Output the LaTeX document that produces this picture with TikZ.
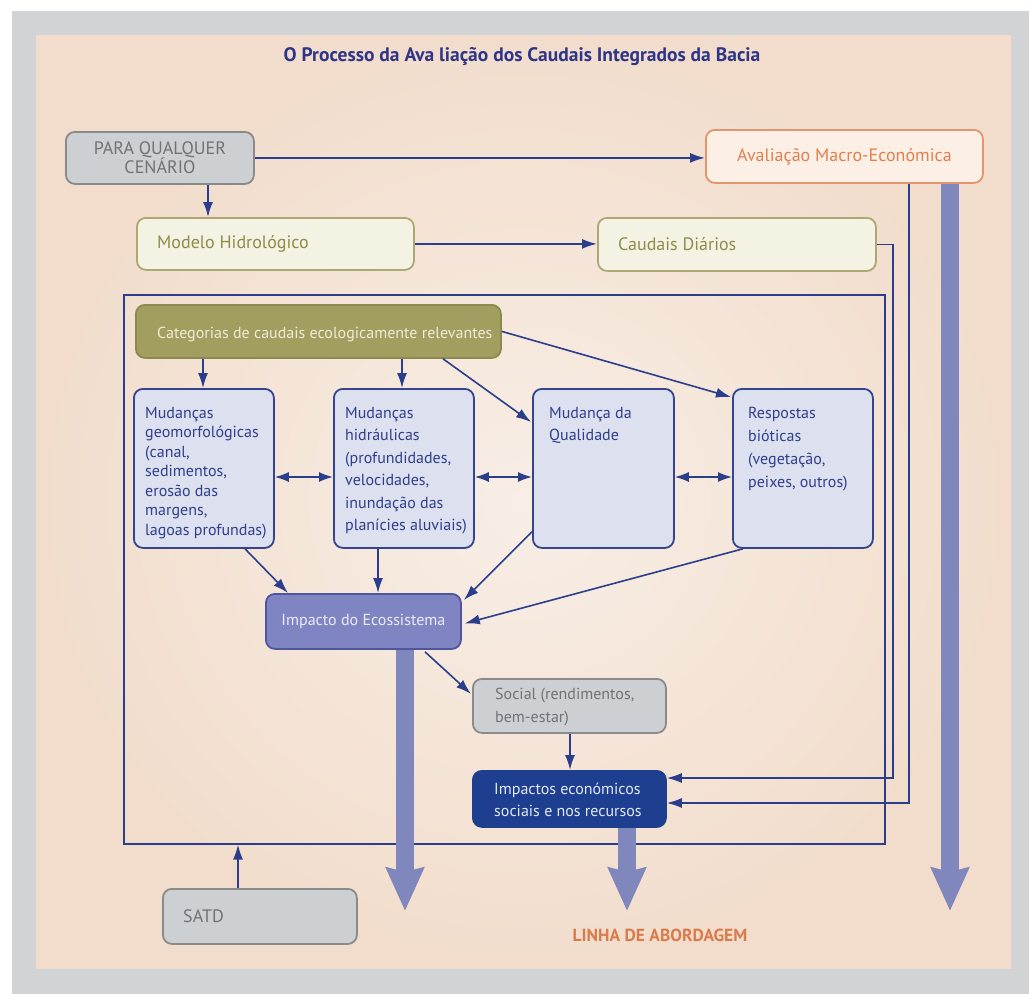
\documentclass[tikz,border=0pt]{standalone}
\usepackage{fontspec}
\setmainfont{PT Sans}
\usetikzlibrary{arrows.meta,calc}
\definecolor{graybg}{HTML}{D1D3D5}
\definecolor{peach}{HTML}{F2DDCC}
\definecolor{peachlt}{HTML}{F8EEE6}
\definecolor{lineblue}{HTML}{2B3E8C}
\definecolor{titleblue}{HTML}{2E3588}
\definecolor{thickblue}{HTML}{7F87BC}
\definecolor{boxgray}{HTML}{CDD0D3}
\definecolor{bordergray}{HTML}{8A8A8A}
\definecolor{textgray}{HTML}{707275}
\definecolor{avalfill}{HTML}{FCEFE6}
\definecolor{avalborder}{HTML}{E3956C}
\definecolor{avaltext}{HTML}{E0804F}
\definecolor{creamfill}{HTML}{F4F2E2}
\definecolor{oliveborder}{HTML}{ADA872}
\definecolor{olivetext}{HTML}{8E8C4A}
\definecolor{catfill}{HTML}{A19E60}
\definecolor{catborder}{HTML}{8C894F}
\definecolor{cattext}{HTML}{EEEDD8}
\definecolor{lavfill}{HTML}{DDE0EE}
\definecolor{navyborder}{HTML}{34448F}
\definecolor{navytext}{HTML}{2F3F8C}
\definecolor{impfill}{HTML}{7F85C3}
\definecolor{impborder}{HTML}{50569B}
\definecolor{imptext}{HTML}{ECECF6}
\definecolor{darkfill}{HTML}{1E3F90}
\definecolor{darktext}{HTML}{E2E8F5}
\definecolor{orangetext}{HTML}{DA7B4C}
\tikzset{
  boxbase/.style={rounded corners=9pt, line width=1.8pt, inner sep=0pt, anchor=north west},
  graybox/.style={boxbase, draw=bordergray, fill=boxgray, text=textgray},
  avalbox/.style={boxbase, draw=avalborder, fill=avalfill, text=avaltext},
  creambox/.style={boxbase, draw=oliveborder, fill=creamfill, text=olivetext},
  catbox/.style={boxbase, draw=catborder, fill=catfill, text=cattext},
  lavbox/.style={boxbase, draw=navyborder, fill=lavfill, text=navytext},
  impbox/.style={boxbase, draw=impborder, fill=impfill, text=imptext},
  darkbox/.style={boxbase, draw=darkfill, fill=darkfill, text=darktext},
  bigfont/.style={font=\fontsize{18}{19.5}\selectfont},
  smallfont/.style={font=\fontsize{16}{22.5}\selectfont},
  txt/.style={inner sep=0pt, align=left},
  conn/.style={draw=lineblue, line width=1.6pt, -{Latex[length=15pt,width=10pt]}},
  dconn/.style={draw=lineblue, line width=1.6pt, {Latex[length=14pt,width=10pt]}-{Latex[length=14pt,width=10pt]}},
  bigarrow/.style={draw=thickblue, line width=18pt, -{Stealth[length=43pt,width=37pt,inset=4pt]}}
}
\begin{document}
\begin{tikzpicture}[x=1pt,y=-1pt]
\useasboundingbox (0,0) rectangle (1029,994);
\fill[white] (0,0) rectangle (1029,994);
\fill[graybg] (12,11) rectangle (1029,994);
\shade[inner color=peachlt, outer color=peach] (36,35) rectangle (1011,968);

% title
\node[font=\bfseries\fontsize{19.5}{22}\selectfont, text=titleblue] (title) at (522,57) {O Processo da Ava liação dos Caudais Integrados da Bacia};

% helper coordinates
\coordinate (x208) at (208,0);
\coordinate (x203) at (203,0);
\coordinate (x402) at (402,0);
\coordinate (x378) at (378,0);
\coordinate (x570) at (570,0);
\coordinate (x238) at (238,0);
\coordinate (xC) at (893,0);
\coordinate (xD) at (909,0);
\coordinate (xE) at (950,0);
\coordinate (xF) at (405,0);
\coordinate (xG) at (627,0);
\coordinate (yC) at (0,778);
\coordinate (yD) at (0,803);
\coordinate (yDbl) at (0,477);
\coordinate (yTip) at (0,911);

% big frame
\node[draw=lineblue, line width=1.6pt, inner sep=0pt, anchor=north west, minimum width=761pt, minimum height=549pt] (frame) at (123,294) {};

% top boxes
\node[graybox, bigfont, align=center, minimum width=188pt, minimum height=52pt] (para) at (65,131) {PARA QUALQUER\\CENÁRIO};
\node[avalbox, bigfont, minimum width=277pt, minimum height=53pt] (aval) at (705,129) {Avaliação Macro-Económica};
\node[creambox, minimum width=277pt, minimum height=52pt] (modelo) at (136,217) {};
\node[txt, bigfont, text=olivetext, anchor=west] (modelot) at ($(modelo.west)+(21,0)$) {Modelo Hidrológico};
\node[creambox, minimum width=278pt, minimum height=53pt] (caud) at (597,217) {};
\node[txt, bigfont, text=olivetext, anchor=west] (caudt) at ($(caud.west)+(21,0)$) {Caudais Diários};

% categories
\node[catbox, minimum width=365pt, minimum height=53pt] (cat) at (135,304) {};
\node[txt, smallfont, text=cattext, anchor=west] (catt) at ($(cat.west)+(22,3)$) {Categorias de caudais ecologicamente relevantes};

% change boxes
\node[lavbox, minimum width=140pt, minimum height=159pt] (geo) at (133,388) {};
\node[txt, font=\fontsize{16}{19.5}\selectfont, text=navytext, anchor=north west] (geot) at ($(geo.north west)+(12,19)$) {Mudanças\\geomorfológicas\\(canal,\\sedimentos,\\erosão das\\margens,\\lagoas profundas)};
\node[lavbox, minimum width=140pt, minimum height=159pt] (hid) at (333,388) {};
\node[txt, smallfont, text=navytext, anchor=north west] (hidt) at ($(hid.north west)+(12,19)$) {Mudanças\\hidráulicas\\(profundidades,\\velocidades,\\inundação das\\planícies aluviais)};
\node[lavbox, minimum width=141pt, minimum height=159pt] (qual) at (532,388) {};
\node[txt, smallfont, text=navytext, anchor=north west] (qualt) at ($(qual.north west)+(17,19)$) {Mudança da\\Qualidade};
\node[lavbox, minimum width=140pt, minimum height=159pt] (resp) at (732,388) {};
\node[txt, font=\fontsize{16}{23}\selectfont, text=navytext, anchor=north west] (respt) at ($(resp.north west)+(16,19)$) {Respostas\\bióticas\\(vegetação,\\peixes, outros)};

% impacts
\node[impbox, smallfont, minimum width=195pt, minimum height=55pt] (imp) at (265,593) {Impacto do Ecossistema};
\node[graybox, minimum width=193pt, minimum height=54pt] (soc) at (472,678) {};
\node[txt, smallfont, text=textgray, anchor=west] (soct) at ($(soc.west)+(23,1)$) {Social (rendimentos,\\bem-estar)};
\node[darkbox, minimum width=193pt, minimum height=56pt] (eco) at (472,770) {};
\node[txt, smallfont, text=darktext, anchor=west] (ecot) at ($(eco.west)+(22,1)$) {Impactos económicos\\sociais e nos recursos};
\node[graybox, minimum width=194pt, minimum height=55pt] (satd) at (162,888) {};
\node[txt, bigfont, text=textgray, anchor=west] (satdt) at ($(satd.west)+(21,0)$) {SATD};

\node[font=\bfseries\fontsize{17.5}{20}\selectfont, text=orangetext] (linha) at (660,935) {LINHA DE ABORDAGEM};

% connectors
\draw[conn] (para.east) -- (para.east -| aval.west);
\draw[conn] (para.south -| x208) -- (modelo.north -| x208);
\draw[conn] (modelo.east) -- (modelo.east -| caud.west);
\draw[conn] (caud.east) -- (caud.east -| xC) |- (eco.east |- yC);
\draw[conn] (aval.south -| xD) |- (eco.east |- yD);

\draw[conn] (cat.south -| x203) -- (geo.north -| x203);
\draw[conn] (cat.south -| x402) -- (hid.north -| x402);
\draw[conn] ($(cat.south west)+(308,0)$) -- ($(qual.north west)+(-1,34)$);
\draw[conn] (cat.east) -- ($(resp.north west)+(-1,9)$);

\draw[dconn] (geo.east |- yDbl) -- (hid.west |- yDbl);
\draw[dconn] (hid.east |- yDbl) -- (qual.west |- yDbl);
\draw[dconn] (qual.east |- yDbl) -- (resp.west |- yDbl);

\draw[conn] ($(geo.south west)+(112,0)$) -- ($(imp.north west)+(23,0)$);
\draw[conn] (hid.south -| x378) -- (imp.north -| x378);
\draw[conn] ($(qual.south west)+(0,-17)$) -- ($(imp.north east)+(2,7)$);
\draw[conn] ($(resp.south west)+(11,0)$) -- ($(imp.east)+(3,2)$);
\draw[conn] ($(imp.south west)+(160,2)$) -- ($(soc.west)+(-1,-12)$);
\draw[conn] (soc.south -| x570) -- (eco.north -| x570);
\draw[conn] (satd.north -| x238) -- (frame.south -| x238);

% thick arrows
\draw[bigarrow] (aval.south -| xE) -- (xE |- yTip);
\draw[bigarrow] (imp.south -| xF) -- (xF |- yTip);
\draw[bigarrow] (eco.south -| xG) -- (xG |- yTip);
\end{tikzpicture}
\end{document}
